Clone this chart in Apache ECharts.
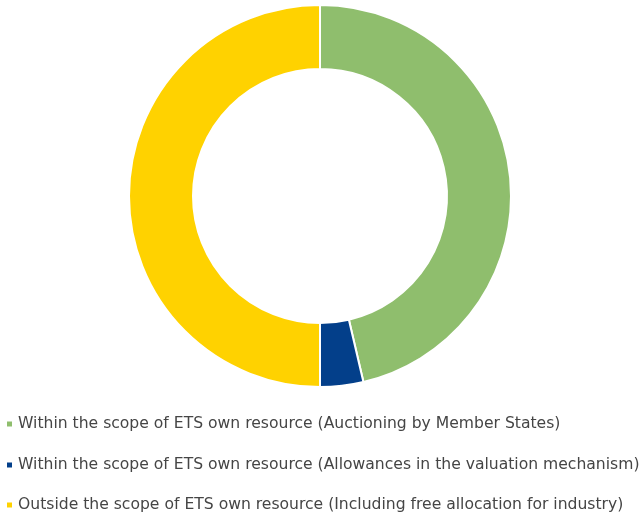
<!DOCTYPE html>
<html>
<head>
<meta charset="utf-8">
<script src="https://cdn.jsdelivr.net/npm/echarts@6/dist/echarts.min.js"></script>
<style>
  html, body { margin: 0; padding: 0; background: #ffffff; }
  #chart { width: 644px; height: 518px; }
</style>
</head>
<body>
<div id="chart"></div>
<script>
// Breakdown of ETS allowances (share, %)
const categories = [
  'Within the scope of ETS own resource (Auctioning by Member States)',
  'Within the scope of ETS own resource (Allowances in the valuation mechanism)',
  'Outside the scope of ETS own resource (Including free allocation for industry)'
];
const shares = [46.35, 3.65, 50.0];
const colors = ['#8FBE6D', '#033F8A', '#FFD200'];

// One legend row per category, stacked under the ring
const legendRowCenters = [424, 465, 505];

const chart = echarts.init(document.getElementById('chart'), null, { renderer: 'canvas' });

chart.setOption({
  animation: false,
  color: colors,
  legend: categories.map((name, i) => ({
    orient: 'horizontal',
    left: 5,
    top: legendRowCenters[i] - 10,
    padding: 0,
    icon: 'rect',
    itemWidth: 7,
    itemHeight: 7,
    itemGap: 0,
    selectedMode: false,
    textStyle: {
      fontFamily: 'DejaVu Sans',
      fontSize: 15.6,
      color: '#454545',
      lineHeight: 20,
      padding: [0, 0, 0, 0]
    },
    data: [name]
  })),
  series: [{
    type: 'pie',
    center: [320, 196],
    radius: [127, 191],
    startAngle: 90,
    clockwise: true,
    label: { show: false },
    labelLine: { show: false },
    emphasis: { disabled: true },
    itemStyle: { borderColor: '#ffffff', borderWidth: 2 },
    data: categories.map((name, i) => ({ name: name, value: shares[i] }))
  }]
});
</script>
</body>
</html>
